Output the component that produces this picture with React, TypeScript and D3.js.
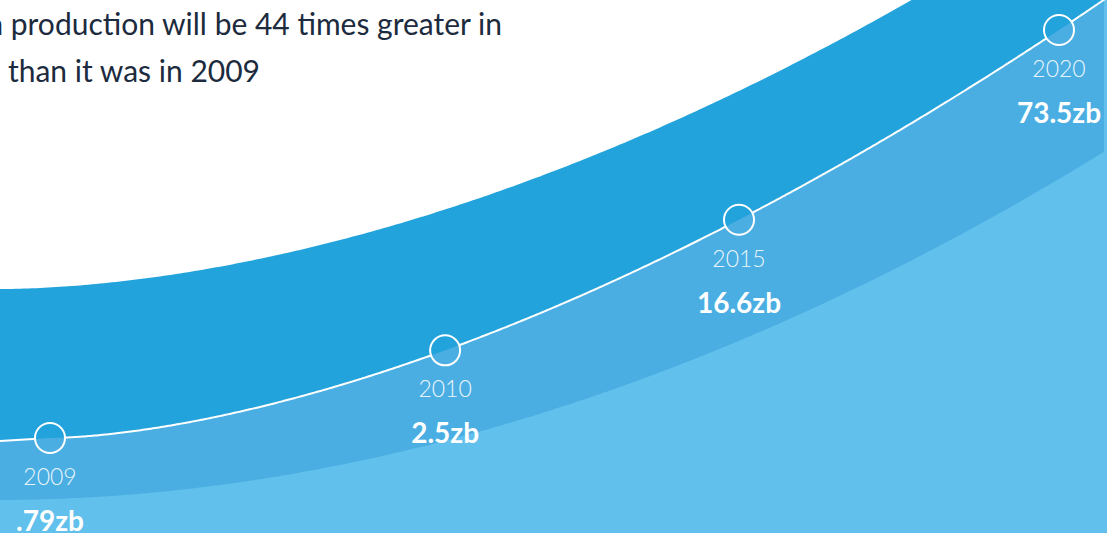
import React from 'react';
import * as d3 from 'd3';

// ---- data ----
const YEARS = [2009, 2010, 2015, 2020];
const VALUES = [0.79, 2.5, 16.6, 73.5]; // zettabytes
const VALUE_LABELS = ['.79zb', '2.5zb', '16.6zb', '73.5zb'];
const HEADLINE = ['Data production will be 44 times greater in', '2020 than it was in 2009'];

// ---- layout / style ----
const W = 1107;
const H = 533;
const COLORS = { top: '#22a3dc', mid: '#4aaee2', low: '#62c0ec', ink: '#1d2b3e' };
const FONT = "Lato, 'Open Sans', sans-serif";
const R = 15;

export default function App() {
  const base = VALUES[0];
  const growth = VALUES.map((v) => v - base);
  const gMax = d3.max(growth) as number;

  // decorative growth curve: x and y are power scales of growth since 2009
  const x = d3.scalePow().exponent(0.25).domain([0, gMax]).range([50, 1059]);
  const y = d3.scalePow().exponent(0.41).domain([0, gMax]).range([438, 30]);

  // band edges (decorative), as power scales of horizontal position
  const topEdge = d3.scalePow().exponent(1.8).domain([0, W]).range([289, -121]);
  const lowEdge = d3.scalePow().exponent(1.95).domain([0, W]).range([500, 150]);

  // sample the curve
  const curvePts: [number, number][] = [[0, y(0) + 3]];
  d3.range(0, 1.07, 0.002).forEach((u) => {
    const g = Math.pow(u, 4) * gMax;
    curvePts.push([x(g), y(g)]);
  });

  const xs = d3.range(0, W + 1, 4);
  const areaAbove = d3
    .area<[number, number]>()
    .x((d) => d[0])
    .y0(-20)
    .y1((d) => d[1]);

  const midPath = areaAbove(xs.map((v) => [v, lowEdge(v)] as [number, number]));
  const darkPath = areaAbove(curvePts);
  const whitePath = areaAbove(xs.map((v) => [v, topEdge(v)] as [number, number]));
  const linePath = d3.line<[number, number]>().x((d) => d[0]).y((d) => d[1])(curvePts);

  const pts = growth.map((g, i) => ({ year: YEARS[i], label: VALUE_LABELS[i], cx: x(g), cy: y(g) }));

  return (
    <svg width={W} height={H} style={{ position: 'fixed', left: 0, top: 0 }} fontFamily={FONT}>
      <defs>
        <mask id="holes">
          <rect x={0} y={0} width={W} height={H} fill="white" />
          {pts.map((p) => (
            <circle key={p.year} cx={p.cx} cy={p.cy} r={R} fill="black" />
          ))}
        </mask>
      </defs>
      <rect x={0} y={0} width={W} height={H} fill={COLORS.low} />
      <path d={midPath || ''} fill={COLORS.mid} />
      <path d={darkPath || ''} fill={COLORS.top} />
      <path d={whitePath || ''} fill="#ffffff" />
      <path d={linePath || ''} fill="none" stroke="#ffffff" strokeWidth={2} mask="url(#holes)" />
      {pts.map((p) => (
        <g key={p.year}>
          <circle cx={p.cx} cy={p.cy} r={R} fill="none" stroke="#ffffff" strokeWidth={2} />
          <text x={p.cx} y={p.cy + 47} textAnchor="middle" fontSize={23} fontWeight={300} fill="rgba(255,255,255,0.9)">
            {p.year}
          </text>
          <text x={p.cx} y={p.cy + 93} textAnchor="middle" fontSize={28} fontWeight={700} fill="#ffffff">
            {p.label}
          </text>
        </g>
      ))}
      <text x={502} y={35} textAnchor="end" fontSize={30} fill={COLORS.ink}>
        {HEADLINE[0]}
      </text>
      <text x={260} y={82} textAnchor="end" fontSize={30} fill={COLORS.ink}>
        {HEADLINE[1]}
      </text>
    </svg>
  );
}
